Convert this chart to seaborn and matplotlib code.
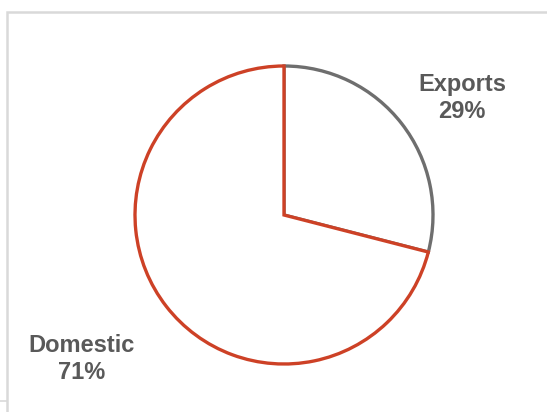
import matplotlib
matplotlib.use("Agg")
import matplotlib.pyplot as plt
import seaborn as sns
from matplotlib.patches import Rectangle
from matplotlib.lines import Line2D

categories = ["Exports", "Domestic"]
shares = [29, 71]
edge_colors = ["#6E6E6E", "#CD4126"]

sns.set_theme(style="white")
plt.rcParams['font.family'] = ['Liberation Sans', 'DejaVu Sans']

W, H = 547, 412
fig = plt.figure(figsize=(W / 100, H / 100), dpi=100)
fig.patch.set_facecolor("white")

# outer frame
fig.add_artist(Rectangle((7 / W, -0.05), 1.2, (H - 12) / H + 0.05, transform=fig.transFigure,
                         fill=False, edgecolor="#D9D9D9", linewidth=1.8))
fig.add_artist(Line2D([0, 7 / W], [(H - 401) / H] * 2, transform=fig.transFigure,
                      color="#D9D9D9", linewidth=1.2))

cx, cy, r = 284, H - 215, 149
ax = fig.add_axes([(cx - r) / W, (cy - r) / H, 2 * r / W, 2 * r / H])
wedges, _ = ax.pie(shares, startangle=90, counterclock=False, radius=1,
                   colors=["white", "white"],
                   wedgeprops=dict(linewidth=2.4))
for w, c in zip(wedges, edge_colors):
    w.set_edgecolor(c)
    w.set_clip_on(False)
ax.set_xlim(-1, 1)
ax.set_ylim(-1, 1)
ax.set_aspect("equal")
ax.axis("off")

label_pos = {"Exports": (462, 98), "Domestic": (82, 359)}
for cat, val in zip(categories, shares):
    x, y = label_pos[cat]
    fig.text(x / W, (H - y) / H, f"{cat}\n{val}%", ha="center", va="center",
             fontsize=17, fontweight="bold", color="#595959", linespacing=1.22)

fig.savefig("out.png", dpi=100)
